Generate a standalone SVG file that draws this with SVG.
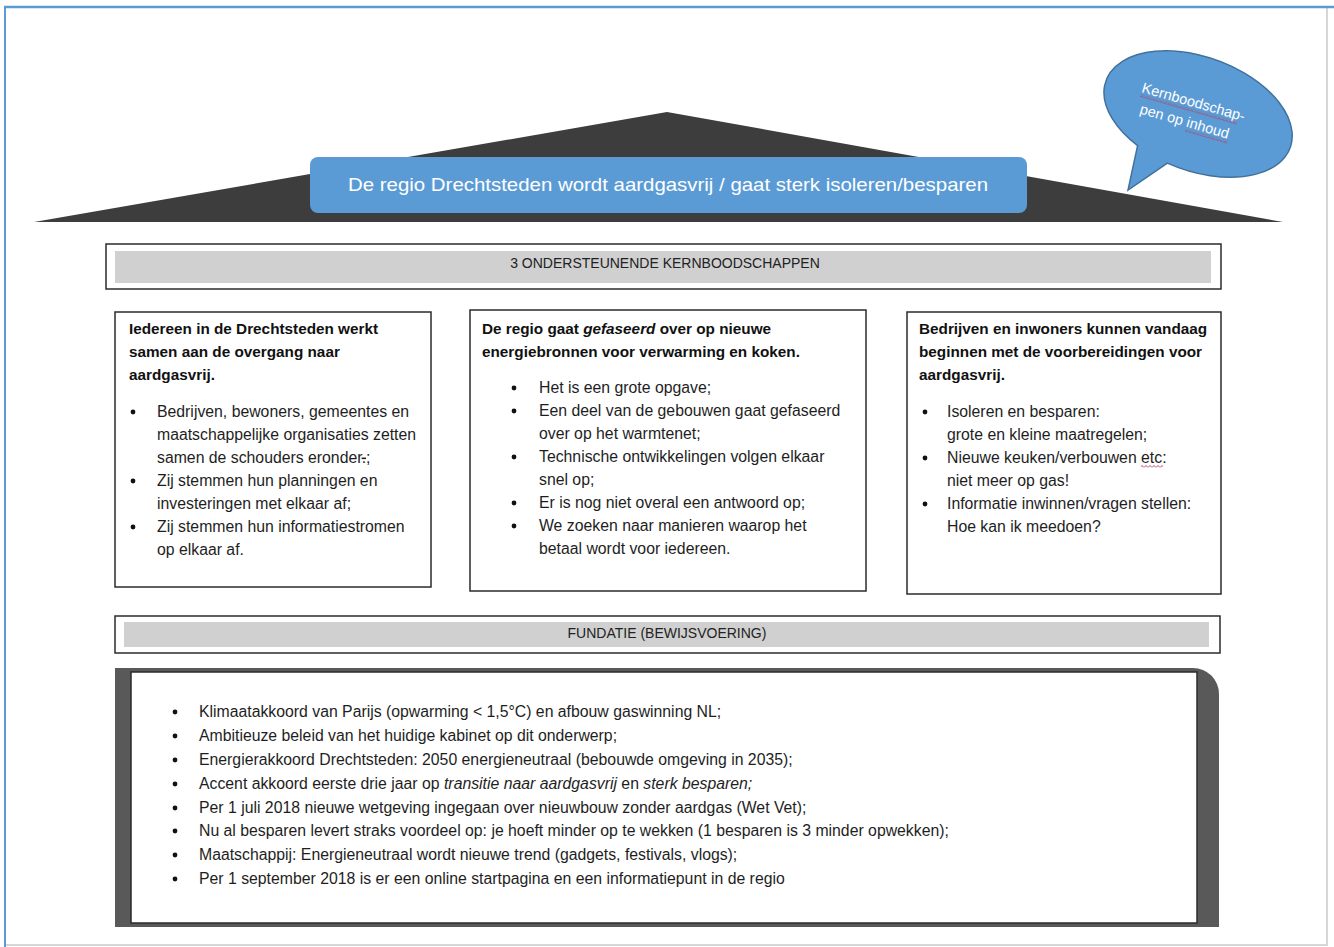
<svg xmlns="http://www.w3.org/2000/svg" width="1334" height="947" viewBox="0 0 1334 947">
<style>
text{font-family:"Liberation Sans",Arial,sans-serif;fill:#1e1e1e}
.t{font-size:15.8px}
.h{font-size:15.3px;font-weight:bold;fill:#111}
.cap{font-size:14px;fill:#222}
.box{fill:#fff;stroke:#2b2b2b;stroke-width:1.5}
.band{fill:#d0d0d0}
.dot{fill:#111}
.i{font-style:italic}
</style>
<defs>
<pattern id="wavy" patternUnits="userSpaceOnUse" width="4" height="3">
<path d="M0,2.5 L2,0.5 L4,2.5" fill="none" stroke="#c0304a" stroke-width="0.9"/>
</pattern>
</defs>

<g id="frame">
<line x1="1327" y1="8" x2="1327" y2="946" stroke="#d6d6d6" stroke-width="2"/>
<line x1="5" y1="945" x2="1328" y2="945" stroke="#d6d6d6" stroke-width="2"/>
<line x1="4" y1="7" x2="1334" y2="7" stroke="#5b9bd5" stroke-width="2.5"/>
<line x1="5" y1="6" x2="5" y2="947" stroke="#5b9bd5" stroke-width="2"/>
</g>

<g id="roof">
<polygon points="34,222 667,112 1283,222" fill="#3d3d3d"/>
</g>

<g id="title">
<rect x="310" y="157" width="717" height="56" rx="8" fill="#5b9bd5"/>
<text x="668" y="191" text-anchor="middle" font-size="18.5" style="fill:#fff" textLength="640" lengthAdjust="spacingAndGlyphs">De regio Drechtsteden wordt aardgasvrij / gaat sterk isoleren/besparen</text>
</g>

<g id="bubble">
<path d="M1137.6,145.6 A98,57 20 1 1 1167.4,163.1 L1128,190 Z" fill="#5b9bd5" stroke="#41719c" stroke-width="1.5"/>
<g transform="translate(1141,92) rotate(16)">
<text x="0" y="0" font-size="14.5" style="fill:#fff">Kernboodschap-</text>
<text x="4" y="21" font-size="14.5" style="fill:#fff">pen op inhoud</text>
<rect x="0" y="2" width="101" height="3" fill="url(#wavy)"/>
<rect x="53" y="23" width="44" height="3" fill="url(#wavy)"/>
</g>
</g>

<g id="header-kernboodschappen">
<rect class="box" x="106" y="244" width="1115" height="45"/>
<rect class="band" x="115" y="251" width="1096" height="32"/>
<text class="cap" x="665" y="268" text-anchor="middle">3  ONDERSTEUNENDE KERNBOODSCHAPPEN</text>
</g>

<g id="box-samen">
<rect class="box" x="115" y="312" width="316" height="275"/>
<text class="h" x="129" y="334">Iedereen in de Drechtsteden werkt</text>
<text class="h" x="129" y="357">samen aan de overgang naar</text>
<text class="h" x="129" y="380">aardgasvrij.</text>
<circle class="dot" cx="133" cy="412" r="2.4"/>
<text class="t" x="157" y="417">Bedrijven, bewoners, gemeentes en</text>
<text class="t" x="157" y="440">maatschappelijke organisaties zetten</text>
<text class="t" x="157" y="463">samen de schouders eronder<tspan text-decoration="line-through">.</tspan>;</text>
<circle class="dot" cx="133" cy="481" r="2.4"/>
<text class="t" x="157" y="486">Zij stemmen hun planningen en</text>
<text class="t" x="157" y="509">investeringen met elkaar af;</text>
<circle class="dot" cx="133" cy="527" r="2.4"/>
<text class="t" x="157" y="532">Zij stemmen hun informatiestromen</text>
<text class="t" x="157" y="555">op elkaar af.</text>
</g>

<g id="box-gefaseerd">
<rect class="box" x="470" y="310" width="396" height="281"/>
<text class="h" x="482" y="334">De regio gaat <tspan class="i">gefaseerd</tspan> over op nieuwe</text>
<text class="h" x="482" y="357">energiebronnen voor verwarming en koken.</text>
<circle class="dot" cx="514" cy="388" r="2.4"/>
<text class="t" x="539" y="393">Het is een grote opgave;</text>
<circle class="dot" cx="514" cy="411" r="2.4"/>
<text class="t" x="539" y="416">Een deel van de gebouwen gaat gefaseerd</text>
<text class="t" x="539" y="439">over op het warmtenet;</text>
<circle class="dot" cx="514" cy="457" r="2.4"/>
<text class="t" x="539" y="462">Technische ontwikkelingen volgen elkaar</text>
<text class="t" x="539" y="485">snel op;</text>
<circle class="dot" cx="514" cy="503" r="2.4"/>
<text class="t" x="539" y="508">Er is nog niet overal een antwoord op;</text>
<circle class="dot" cx="514" cy="526" r="2.4"/>
<text class="t" x="539" y="531">We zoeken naar manieren waarop het</text>
<text class="t" x="539" y="554">betaal wordt voor iedereen.</text>
</g>

<g id="box-vandaag">
<rect class="box" x="907" y="312" width="314" height="282"/>
<text class="h" x="919" y="334">Bedrijven en inwoners kunnen vandaag</text>
<text class="h" x="919" y="357">beginnen met de voorbereidingen voor</text>
<text class="h" x="919" y="380">aardgasvrij.</text>
<circle class="dot" cx="925" cy="412" r="2.4"/>
<text class="t" x="947" y="417">Isoleren en besparen:</text>
<text class="t" x="947" y="440">grote en kleine maatregelen;</text>
<circle class="dot" cx="925" cy="458" r="2.4"/>
<text class="t" x="947" y="463">Nieuwe keuken/verbouwen <tspan id="etc">etc</tspan>:</text>
<rect x="1141" y="465" width="22" height="3" fill="url(#wavy)"/>
<text class="t" x="947" y="486">niet meer op gas!</text>
<circle class="dot" cx="925" cy="504" r="2.4"/>
<text class="t" x="947" y="509">Informatie inwinnen/vragen stellen:</text>
<text class="t" x="947" y="532">Hoe kan ik meedoen?</text>
</g>

<g id="header-fundatie">
<rect class="box" x="115" y="616" width="1105" height="37"/>
<rect class="band" x="124" y="622" width="1085" height="25"/>
<text class="cap" x="667" y="638" text-anchor="middle">FUNDATIE (BEWIJSVOERING)</text>
</g>

<g id="fundatie">
<path d="M115,668 H1193 A26,26 0 0 1 1219,694 V927 H115 Z" fill="#595959"/>
<rect class="box" x="131" y="672" width="1066" height="251"/>
<circle class="dot" cx="175" cy="712" r="2.4"/>
<text class="t" x="199" y="717">Klimaatakkoord van Parijs (opwarming &lt; 1,5°C) en afbouw gaswinning NL;</text>
<circle class="dot" cx="175" cy="736" r="2.4"/>
<text class="t" x="199" y="741">Ambitieuze beleid van het huidige kabinet op dit onderwerp;</text>
<circle class="dot" cx="175" cy="760" r="2.4"/>
<text class="t" x="199" y="765">Energierakkoord Drechtsteden: 2050 energieneutraal (bebouwde omgeving in 2035);</text>
<circle class="dot" cx="175" cy="784" r="2.4"/>
<text class="t" x="199" y="789">Accent akkoord eerste drie jaar op <tspan class="i">transitie naar aardgasvrij</tspan> en <tspan class="i">sterk besparen;</tspan></text>
<circle class="dot" cx="175" cy="808" r="2.4"/>
<text class="t" x="199" y="813">Per 1 juli 2018 nieuwe wetgeving ingegaan over nieuwbouw zonder aardgas (Wet Vet);</text>
<circle class="dot" cx="175" cy="831" r="2.4"/>
<text class="t" x="199" y="836">Nu al besparen levert straks voordeel op: je hoeft minder op te wekken (1 besparen is 3 minder opwekken);</text>
<circle class="dot" cx="175" cy="855" r="2.4"/>
<text class="t" x="199" y="860">Maatschappij: Energieneutraal wordt nieuwe trend (gadgets, festivals, vlogs);</text>
<circle class="dot" cx="175" cy="879" r="2.4"/>
<text class="t" x="199" y="884">Per 1 september 2018 is er een online startpagina en een informatiepunt in de regio</text>
</g>
</svg>
